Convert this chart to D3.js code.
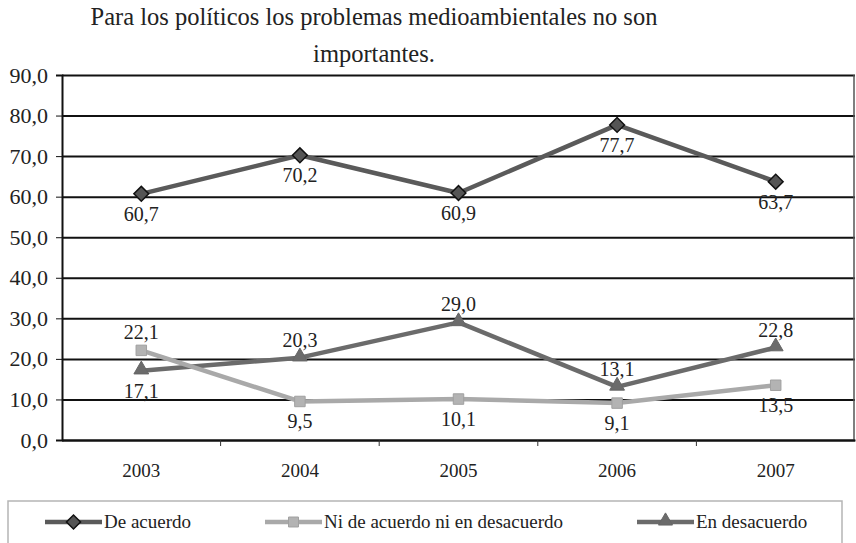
<!DOCTYPE html>
<html>
<head>
<meta charset="utf-8">
<script src="https://cdn.jsdelivr.net/npm/d3@7"></script>
<style>
  body { margin:0; background:#fff; }
  svg text { font-family:"Liberation Serif", "DejaVu Serif", serif; fill:#222; }
</style>
</head>
<body>
<div id="chart"></div>
<script>
// line chart - politicos y medio ambiente

var years = ["2003","2004","2005","2006","2007"];
var deAcuerdo = [60.7,70.2,60.9,77.7,63.7];
var niNi = [22.1,9.5,10.1,9.1,13.5];
var enDesacuerdo = [17.1,20.3,29.0,13.1,22.8];
var yTicks = [0,10,20,30,40,50,60,70,80,90];
var titleLines = ["Para los políticos los problemas medioambientales no son","importantes."];

var width = 856, height = 543;
var margin = {top:75, left:62, right:1, bottom:103};
var serif = "'Liberation Serif', 'DejaVu Serif', serif";

var series = [
    {name:"De acuerdo", values:deAcuerdo, color:"#5a5a5a", fill:"#555", stroke:"#111", shape:"diamond",
     labels:["below","below","below","below","below"], legendX:45},
    {name:"Ni de acuerdo ni en desacuerdo", values:niNi, color:"#a9a9a9", fill:"#b3b3b3", stroke:"#a0a0a0", shape:"square",
     labels:["above","below","below","below","below"], legendX:265},
    {name:"En desacuerdo", values:enDesacuerdo, color:"#6b6b6b", fill:"#6b6b6b", stroke:"#666", shape:"triangle",
     labels:["below","above","above","above","above"], legendX:637}
];

var svg = d3.select("#chart").append("svg")
    .attr("width",width)
    .attr("height",height)
    .attr("font-family",serif);

var x = d3.scaleBand()
    .domain(years)
    .range([margin.left, width - margin.right]);

var y = d3.scaleLinear()
    .domain([0,90])
    .range([height - margin.bottom, margin.top]);

var fmt = d => d3.format(".1f")(d).replace(".",",");

//title
svg.append("g").selectAll("text")
    .data(titleLines)
    .enter().append("text")
    .attr("x",374)
    .attr("y",(d,i) => 25 + i*37)
    .attr("text-anchor","middle")
    .style("font-size","24.5px")
    .text(d => d);

//grid
svg.append("g")
    .attr("transform","translate(" + margin.left + ",0)")
    .call(d3.axisLeft(y).tickValues(yTicks)
        .tickSize(-(width - margin.left - margin.right))
        .tickFormat(""))
    .call(g => g.select(".domain").remove())
    .call(g => g.selectAll(".tick line").attr("stroke","#111").attr("stroke-width",2));

//y axis
var yAxis = svg.append("g")
    .attr("transform","translate(" + margin.left + ",0)")
    .call(d3.axisLeft(y).tickValues(yTicks).tickSize(6).tickPadding(8).tickFormat(fmt))
    .attr("font-family",serif);
yAxis.select(".domain").attr("stroke","#111").attr("stroke-width",2);
yAxis.selectAll(".tick line").attr("stroke","#111");
yAxis.selectAll(".tick text").style("font-size","22px");

//right border
svg.append("line")
    .attr("x1",width - margin.right - 1).attr("x2",width - margin.right - 1)
    .attr("y1",y(90)).attr("y2",y(0))
    .attr("stroke","#555").attr("stroke-width",1.5);

//x axis
var xAxis = svg.append("g")
    .attr("transform","translate(0," + y(0) + ")")
    .call(d3.axisBottom(x).tickSize(0).tickPadding(24))
    .attr("font-family",serif);
xAxis.select(".domain").attr("stroke","#111").attr("stroke-width",2);
xAxis.selectAll(".tick text").style("font-size","19px");
xAxis.selectAll(".sep")
    .data(years.slice(1))
    .enter().append("line")
    .attr("x1",d => x(d)).attr("x2",d => x(d))
    .attr("y1",0).attr("y2",6)
    .attr("stroke","#333");

function cx(i){ return x(years[i]) + x.bandwidth()/2; }

function drawMarker(g, s, px, py, k){
    var path;
    if(s.shape == "diamond"){
        path = g.append("path").attr("d", d3.symbol(d3.symbolSquare, 110*k)())
            .attr("transform","translate(" + px + "," + py + ") rotate(45)");
    }else if(s.shape == "square"){
        path = g.append("path").attr("d", d3.symbol(d3.symbolSquare, 110*k)())
            .attr("transform","translate(" + px + "," + py + ")");
    }else{
        path = g.append("path").attr("d", d3.symbol(d3.symbolTriangle, 95*k)())
            .attr("transform","translate(" + px + "," + (py - 1) + ")");
    }
    path.attr("fill",s.fill).attr("stroke",s.stroke).attr("stroke-width",s.shape == "diamond" ? 1.5 : 1);
}

var line = d3.line()
    .x((d,i) => cx(i))
    .y(d => y(d));

//series (reverse so De acuerdo is on top)
series.slice().reverse().forEach(function(s){
    var g = svg.append("g");
    g.append("path")
        .datum(s.values)
        .attr("fill","none")
        .attr("stroke",s.color)
        .attr("stroke-width",4.5)
        .attr("stroke-linejoin","round")
        .attr("d",line);
    s.values.forEach((v,i) => drawMarker(g, s, cx(i), y(v), 1));
    g.selectAll(".lbl")
        .data(s.values)
        .enter().append("text")
        .attr("x",(d,i) => cx(i))
        .attr("y",(d,i) => s.labels[i] == "above" ? y(d) - 11 : y(d) + 27)
        .attr("text-anchor","middle")
        .style("font-size","20px")
        .text(fmt);
});

//legend
svg.append("rect")
    .attr("x",8).attr("y",501)
    .attr("width",834).attr("height",60)
    .attr("fill","none")
    .attr("stroke","#b5b5b5")
    .attr("stroke-width",1.5);

series.forEach(function(s){
    var g = svg.append("g");
    g.append("line")
        .attr("x1",s.legendX).attr("x2",s.legendX + 57)
        .attr("y1",522).attr("y2",522)
        .attr("stroke",s.color).attr("stroke-width",4.5);
    drawMarker(g, s, s.legendX + 28.5, 522, 0.9);
    g.append("text")
        .attr("x",s.legendX + 59)
        .attr("y",528)
        .style("font-size","19px")
        .text(s.name);
});
</script>
</body>
</html>
